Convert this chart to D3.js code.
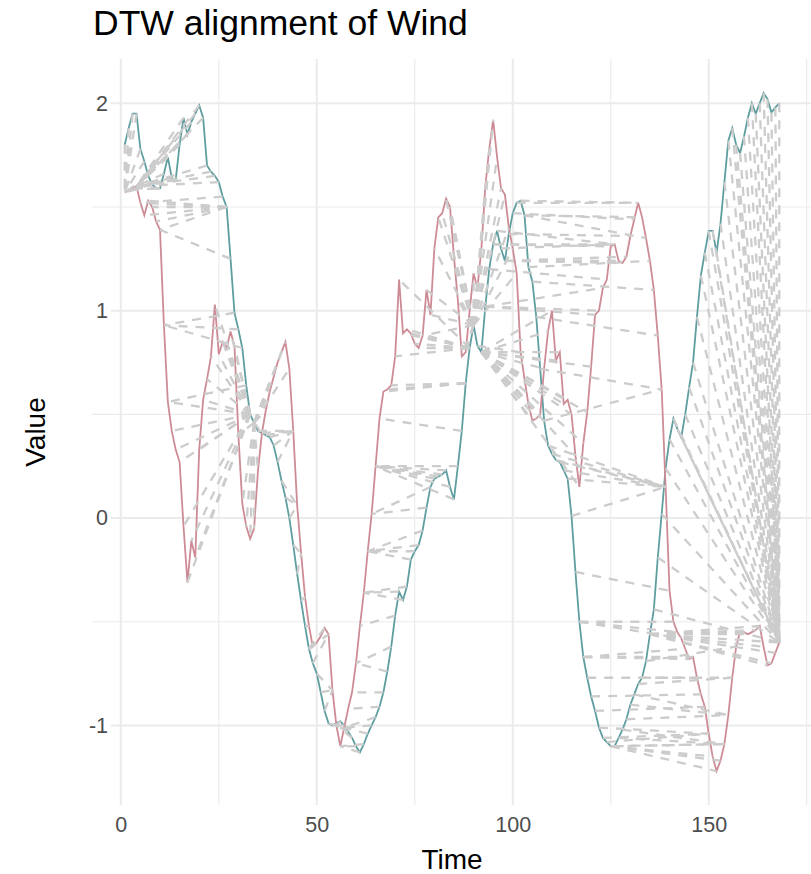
<!DOCTYPE html>
<html>
<head>
<meta charset="utf-8">
<script src="https://cdn.jsdelivr.net/npm/d3@7"></script>
<style>
  body { margin: 0; background: #fff; }
  svg { display: block; font-family: "Liberation Sans", Arial, Helvetica, sans-serif; }
</style>
</head>
<body>
<div id="chart"></div>
<script>
// Wind series (index 1..168)
const reference = [
  1.80, 1.88, 1.95, 1.95, 1.78, 1.72, 1.65, 1.61, 1.59, 1.59,
  1.66, 1.74, 1.64, 1.63, 1.80, 1.93, 1.85, 1.91, 1.95, 1.99,
  1.93, 1.70, 1.67, 1.65, 1.62, 1.55, 1.50, 1.25, 0.99, 0.91,
  0.82, 0.64, 0.50, 0.46, 0.42, 0.41, 0.40, 0.39, 0.35, 0.27,
  0.18, 0.10, 0.00, -0.13, -0.27, -0.40, -0.52, -0.63, -0.70, -0.75,
  -0.84, -0.93, -0.99, -1.00, -0.99, -0.98, -1.00, -1.03, -1.06, -1.10,
  -1.13, -1.09, -1.04, -1.00, -0.96, -0.91, -0.84, -0.74, -0.62, -0.47,
  -0.355, -0.395, -0.33, -0.20, -0.16, -0.13, -0.06, 0.05, 0.15, 0.19,
  0.20, 0.21, 0.23, 0.15, 0.09, 0.25, 0.42, 0.65, 0.82, 0.93,
  0.83, 0.80, 1.02, 1.20, 1.32, 1.385, 1.30, 1.24, 1.37, 1.47,
  1.52, 1.53, 1.46, 1.21, 1.14, 0.97, 0.72, 0.47, 0.35, 0.31,
  0.28, 0.27, 0.23, 0.19, 0.01, -0.26, -0.50, -0.67, -0.77, -0.86,
  -0.93, -1.01, -1.06, -1.08, -1.10, -1.10, -1.06, -1.02, -0.97, -0.90,
  -0.85, -0.80, -0.77, -0.69, -0.56, -0.44, -0.19, 0.02, 0.24, 0.38,
  0.48, 0.43, 0.39, 0.50, 0.63, 0.75, 0.97, 1.17, 1.28, 1.385,
  1.385, 1.28, 1.42, 1.62, 1.82, 1.88, 1.80, 1.76, 1.84, 1.93,
  2.00, 1.95, 2.00, 2.05, 2.02, 1.955, 1.98, 2.00
];

const query = [
  1.57, 1.58, 1.59, 1.60, 1.52, 1.46, 1.53, 1.50, 1.43, 1.39,
  0.93, 0.56, 0.42, 0.33, 0.27, -0.04, -0.31, -0.11, -0.19, 0.33,
  0.57, 0.67, 0.78, 1.03, 0.79, 0.85, 0.82, 0.90, 0.83, 0.40,
  0.07, -0.04, -0.10, -0.05, 0.23, 0.41, 0.52, 0.61, 0.68, 0.75,
  0.80, 0.85, 0.72, 0.42, 0.06, -0.17, -0.38, -0.52, -0.62, -0.60,
  -0.57, -0.53, -0.56, -0.83, -1.00, -1.10, -1.01, -0.92, -0.84, -0.70,
  -0.52, -0.36, -0.16, 0.02, 0.25, 0.48, 0.61, 0.62, 0.64, 0.78,
  1.15, 0.89, 0.91, 0.89, 0.84, 0.82, 0.88, 1.10, 0.98, 1.30,
  1.45, 1.47, 1.54, 1.50, 1.26, 1.05, 0.78, 0.80, 1.00, 1.18,
  1.11, 1.30, 1.60, 1.78, 1.92, 1.74, 1.59, 1.56, 1.40, 1.30,
  1.18, 0.80, 0.67, 0.55, 0.47, 0.48, 0.50, 0.72, 0.90, 1.00,
  0.76, 0.80, 0.55, 0.57, 0.50, 0.30, 0.15, 0.36, 0.51, 0.73,
  0.98, 1.00, 1.11, 1.15, 1.31, 1.32, 1.24, 1.23, 1.26, 1.36,
  1.44, 1.52, 1.45, 1.35, 1.24, 1.10, 0.88, 0.62, 0.15, -0.35,
  -0.50, -0.55, -0.58, -0.63, -0.68, -0.67, -0.77, -0.85, -0.91, -1.04,
  -1.15, -1.22, -1.17, -1.09, -0.95, -0.77, -0.62, -0.55, -0.55, -0.56,
  -0.55, -0.54, -0.52, -0.62, -0.71, -0.70, -0.65, -0.60
];

const xTicks = [0, 50, 100, 150];
const yTicks = [-1, 0, 1, 2];
const titleText = "DTW alignment of Wind";
const xTitle = "Time";
const yTitle = "Value";

// Configuration
const width = 811;
const height = 874;
const panel = { left: 92, right: 812, top: 59, bottom: 805 };
const yLabelRight = 108;
const colRef = "#5F9EA0";   // cadetblue
const colQuery = "#CD8C95"; // lightpink3

// classic DTW (symmetric2 step pattern), returns index pairs [i, j]
function dtwPath(a, b) {
    const n = a.length, m = b.length;
    const g = new Float64Array(n * m);
    const dir = new Uint8Array(n * m);
    for (let i = 0; i < n; i++) {
        for (let j = 0; j < m; j++) {
            const d = Math.abs(a[i] - b[j]);
            const k = i * m + j;
            if (i === 0 && j === 0) { g[k] = d; continue; }
            let best = Infinity, bd = 0;
            if (i > 0 && j > 0 && g[k - m - 1] + 2 * d < best) { best = g[k - m - 1] + 2 * d; bd = 1; }
            if (i > 0 && g[k - m] + d < best) { best = g[k - m] + d; bd = 2; }
            if (j > 0 && g[k - 1] + d < best) { best = g[k - 1] + d; bd = 3; }
            g[k] = best;
            dir[k] = bd;
        }
    }
    const path = [];
    let i = n - 1, j = m - 1;
    path.push([i, j]);
    while (i > 0 || j > 0) {
        const s = dir[i * m + j];
        if (s === 1) { i--; j--; }
        else if (s === 2) { i--; }
        else { j--; }
        path.push([i, j]);
    }
    return path.reverse();
}

const refData = reference.map((v, i) => ({ t: i + 1, v }));
const queryData = query.map((v, i) => ({ t: i + 1, v }));
const alignment = dtwPath(reference, query);

// Scales with ggplot-like 5% expansion
const xExt = [1, reference.length];
const xPad = (xExt[1] - xExt[0]) * 0.05;
const x = d3.scaleLinear()
    .domain([xExt[0] - xPad, xExt[1] + xPad])
    .range([panel.left, panel.right]);

const yExt = d3.extent(reference.concat(query));
const yPad = (yExt[1] - yExt[0]) * 0.05;
const y = d3.scaleLinear()
    .domain([yExt[0] - yPad, yExt[1] + yPad])
    .range([panel.bottom, panel.top]);

// minor breaks halfway between majors
function minorBreaks(ticks, domain) {
    const step = ticks[1] - ticks[0];
    const out = [];
    for (let v = ticks[0] - step / 2; v <= domain[1]; v += step) {
        if (v >= domain[0]) out.push(v);
    }
    return out;
}

const svg = d3.select("#chart").append("svg")
    .attr("width", width)
    .attr("height", height);

const grid = svg.append("g");
grid.selectAll(".xminor")
    .data(minorBreaks(xTicks, x.domain()))
    .join("line")
    .attr("x1", d => x(d)).attr("x2", d => x(d))
    .attr("y1", panel.top).attr("y2", panel.bottom)
    .attr("stroke", "#EBEBEB").attr("stroke-width", 1.1);
grid.selectAll(".yminor")
    .data(minorBreaks(yTicks, y.domain()))
    .join("line")
    .attr("y1", d => y(d)).attr("y2", d => y(d))
    .attr("x1", panel.left).attr("x2", panel.right)
    .attr("stroke", "#EBEBEB").attr("stroke-width", 1.1);
grid.selectAll(".xmajor")
    .data(xTicks)
    .join("line")
    .attr("x1", d => x(d)).attr("x2", d => x(d))
    .attr("y1", panel.top).attr("y2", panel.bottom)
    .attr("stroke", "#EBEBEB").attr("stroke-width", 2);
grid.selectAll(".ymajor")
    .data(yTicks)
    .join("line")
    .attr("y1", d => y(d)).attr("y2", d => y(d))
    .attr("x1", yLabelRight + 3).attr("x2", panel.right)
    .attr("stroke", "#EBEBEB").attr("stroke-width", 2);

const line = d3.line().x(d => x(d.t)).y(d => y(d.v));

svg.append("path")
    .datum(refData)
    .attr("fill", "none")
    .attr("stroke", colRef)
    .attr("stroke-width", 1.8)
    .attr("d", line);

svg.append("path")
    .datum(queryData)
    .attr("fill", "none")
    .attr("stroke", colQuery)
    .attr("stroke-width", 1.8)
    .attr("d", line);

// alignment segments
svg.append("g")
    .selectAll("line")
    .data(alignment)
    .join("line")
    .attr("x1", d => x(d[0] + 1))
    .attr("y1", d => y(reference[d[0]]))
    .attr("x2", d => x(d[1] + 1))
    .attr("y2", d => y(query[d[1]]))
    .attr("stroke", "#CCCCCC")
    .attr("stroke-width", 2.3)
    .attr("stroke-dasharray", "9,8");

// axes labels
const xAxis = d3.axisBottom(x).tickValues(xTicks).tickFormat(d => String(d)).tickSize(0).tickPadding(12);
svg.append("g")
    .attr("transform", `translate(0,${panel.bottom})`)
    .call(xAxis)
    .call(g => g.select(".domain").remove())
    .selectAll("text")
    .attr("fill", "#4D4D4D")
    .style("font-size", "21.5px")
    .style("font-family", "inherit");

const yAxis = d3.axisLeft(y).tickValues(yTicks).tickFormat(d => String(d)).tickSize(0).tickPadding(0);
svg.append("g")
    .attr("transform", `translate(${yLabelRight},0)`)
    .call(yAxis)
    .call(g => g.select(".domain").remove())
    .selectAll("text")
    .attr("fill", "#4D4D4D")
    .style("font-size", "21.5px")
    .style("font-family", "inherit");

svg.append("text")
    .attr("x", panel.left + 1)
    .attr("y", 35)
    .attr("font-size", 35.5)
    .attr("fill", "#000")
    .text(titleText);

svg.append("text")
    .attr("x", (panel.left + panel.right) / 2)
    .attr("y", 869)
    .attr("text-anchor", "middle")
    .attr("font-size", 28)
    .attr("fill", "#000")
    .text(xTitle);

svg.append("text")
    .attr("transform", `translate(45,${(panel.top + panel.bottom) / 2}) rotate(-90)`)
    .attr("text-anchor", "middle")
    .attr("font-size", 28)
    .attr("fill", "#000")
    .text(yTitle);
</script>
</body>
</html>
